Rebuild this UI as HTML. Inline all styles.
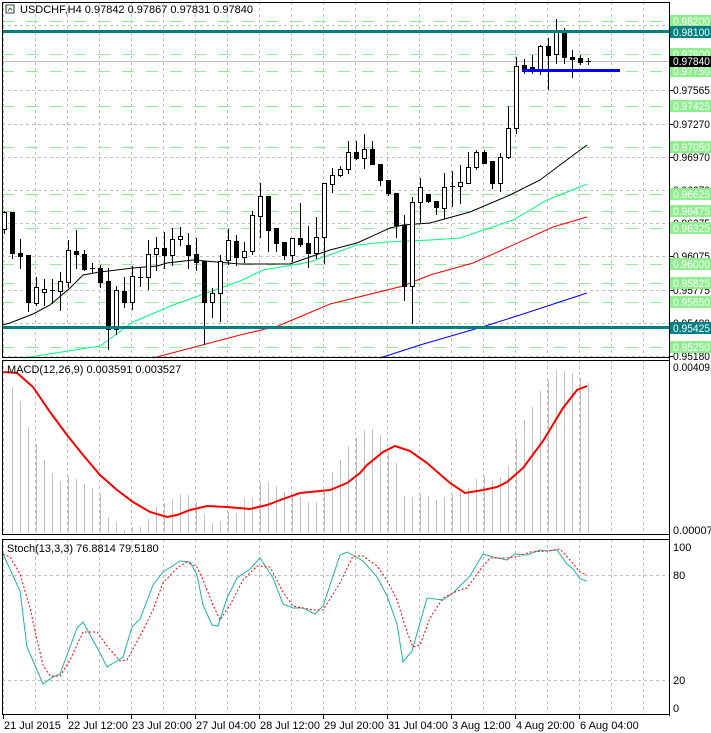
<!DOCTYPE html>
<html><head><meta charset="utf-8">
<style>
html,body{margin:0;padding:0;background:#fff;}
svg{display:block;font-family:"Liberation Sans",sans-serif;font-size:11px;}
</style></head>
<body>
<svg id="c" width="711" height="733" viewBox="0 0 711 733" xmlns="http://www.w3.org/2000/svg"></svg>
<script>
const S=document.getElementById('c');let h='';
function L(x1,y1,x2,y2,c,w,d){h+=`<line x1="${x1}" y1="${y1}" x2="${x2}" y2="${y2}" stroke="${c}" stroke-width="${w||1}"${d?` stroke-dasharray="${d}"`:''} shape-rendering="crispEdges"/>`;}
function R(x,y,w,hh,f,s){h+=`<rect x="${x}" y="${y}" width="${w}" height="${hh}" fill="${f}"${s?` stroke="${s}"`:''} shape-rendering="crispEdges"/>`;}
function T(x,y,t,c,a){h+=`<text x="${x}" y="${y}" fill="${c||'#000'}"${a?` text-anchor="${a}"`:''}>${t}</text>`;}
function TA(x,y,t,c){h+=`<text x="${x}" y="${y}" fill="${c||'#000'}" textLength="37" lengthAdjust="spacingAndGlyphs">${t}</text>`;}
function P(pts,c,w,d){h+=`<polyline points="${pts.map(p=>p.join(',')).join(' ')}" fill="none" stroke="${c}" stroke-width="${w||1}"${d?` stroke-dasharray="${d}"`:''}/>`;}
const AX=669;
const vx=[];for(let x=3;x<AX;x+=32)vx.push(x);
function vgrid(y1,y2){vx.forEach(x=>L(x+.5,y1,x+.5,y2,'#c0c0c0',1,'3,3'));}
vgrid(2,357);
[25,90,124,157,190,223,256,290,323,356].forEach(y=>L(2,y+.5,AX,y+.5,'#c0c0c0',1,'3,3'));
const gl=[[21,'0.98200'],[54,'0.97900'],[71,'0.97750'],[106,'0.97425'],[147,'0.97050'],[194,'0.96625'],[211,'0.96475'],[228,'0.96325'],[264,'0.96000'],[283,'0.95825'],[302,'0.95650'],[347,'0.95250']];
gl.forEach(g=>L(2,g[0]+.5,AX,g[0]+.5,'#90ee90',1,'12,12'));
L(2,61.5,AX,61.5,'#c0c0c0',1);
P([[2,325],[10,323],[33,314],[50,305],[70,288],[83,275],[100,272],[133,268],[157,266],[167,263],[193,260],[240,264],[290,264],[330,250],[357,243],[390,228],[403,225],[430,223],[470,212],[510,195],[540,180],[560,165],[587,145]],'#000');
P([[23,358],[100,346],[133,322],[173,305],[240,281],[263,270],[310,262],[357,245],[387,242],[430,240],[460,238],[513,220],[547,200],[587,184]],'#00ff7f');
P([[153,358],[240,335],[278,326],[330,304],[403,286],[430,275],[473,263],[553,227],[587,217]],'#ff0000');
P([[380,358],[420,345],[482,327],[520,315],[587,293]],'#0000ff');
const C=[[229,212,211,233],[212,253,212,258],[253,256,239,268],[255,302,255,311],[303,287,277,305],[292,289,279,305],[290,290,279,303],[291,281,272,310],[282,250,240,287],[251,254,230,268],[254,269,250,270],[268,268,263,272],[268,282,265,287],[281,329,268,349],[329,290,286,334],[291,302,277,307],[302,276,266,309],[277,277,268,286],[277,254,240,289],[254,248,237,270],[248,255,232,268],[255,239,228,265],[239,236,227,245],[245,255,233,268],[254,262,238,270],[261,302,261,344],[302,293,288,317],[293,261,255,321],[260,240,229,264],[241,257,235,265],
[257,251,242,262],[251,215,211,254],[216,196,183,237],[196,230,196,251],[228,243,228,251],[242,255,242,259],[255,238,238,261],[238,244,203,246],[243,253,226,267],[253,237,217,258],[237,183,183,263],[184,175,168,192],[175,169,166,176],[169,152,141,173],[152,158,141,159],[158,149,134,168],[149,164,141,164],[164,180,164,185],[180,193,180,195],[193,225,193,237],[225,286,215,300],[286,202,197,323],[202,187,178,222],[194,201,194,202],
[201,207,201,214],[208,187,173,218],[186,186,171,206],[186,182,165,203],[183,167,152,183],[167,152,150,169],[152,163,150,163],[161,183,161,188],[183,157,153,191],[157,128,106,158],[128,66,57,133],[65,68,59,73],[67,70,55,73],[69,46,45,74],[46,55,38,89],[54,31,19,63],[31,57,28,63],[57,59,50,77],[58,62,55,64],[61,61,58,64]];
C.forEach((c,i)=>{const x=Math.round(3.5+8*i);const [o,cl,hi,lo]=c;
 L(x+.5,hi,x+.5,lo+1,'#000');
 const t=Math.min(o,cl),b=Math.max(o,cl);
 if(b-t<1){L(x-2,t+.5,x+3,t+.5,'#000');}
 else if(cl<o){R(x-2+.5,t+.5,4,b-t,'#fff','#000');}
 else R(x-2,t,5,b-t+1,'#000');
});
R(2,30,AX-2,3,'#008080');R(2,326,AX-2,3,'#008080');
R(522,69,98,3,'#0000ff');
L(2,2.5,AX,2.5,'#000');L(2,357.5,AX,357.5,'#000');L(2.5,2,2.5,358,'#000');
const M0=360,M1=535;
vgrid(M0,M1);
const mb=[null,387,401,427,444,460,473,481,476,479,484,488,494,517,522,530,527,527,519,507,503,499,494,495,502,514,523,521,512,513,498,498,482,482,486,492,497,497,502,502,492,472,460,446,438,430,429,435,452,463,496,497,494,496,500,497,494,492,488,479,476,480,477,466,439,420,407,391,380,370,371,373,378,383];
mb.forEach((y,i)=>{if(y===null)return;const x=Math.round(3.5+8*i)+.5;L(x,y,x,533,'#c0c0c0');});
P([[3,372],[17,373],[33,387],[50,412],[67,435],[83,455],[100,475],[117,490],[133,502],[150,512],[167,517],[177,515],[190,510],[207,506],[227,507],[250,509],[267,505],[283,499],[300,493],[330,490],[347,483],[360,473],[367,465],[383,452],[395,446],[410,451],[427,463],[450,483],[465,493],[483,490],[497,487],[507,482],[523,468],[543,441],[563,408],[577,390],[587,386]],'#ff0000',2);
T(7,373,'MACD(12,26,9) 0.003591 0.003527','#000');
h+=`<rect x="2.5" y="${M0+.5}" width="${AX-2}" height="${M1-M0-1}" fill="none" stroke="#000"/>`;
const S0=539,S1=715;
vgrid(S0,S1);
L(2,575.5,AX,575.5,'#c0c0c0',1,'3,3');L(2,680.5,AX,680.5,'#c0c0c0',1,'3,3');
P([[3,554],[20,591],[27,647],[37,670],[43,684],[53,677],[60,674],[77,628],[83,622],[100,653],[107,667],[123,657],[132,627],[140,619],[153,585],[163,572],[180,561],[190,562],[197,575],[203,605],[212,625],[218,626],[227,598],[237,578],[250,569],[260,558],[273,578],[283,604],[293,608],[303,608],[315,614],[323,606],[340,555],[347,552],[363,561],[377,577],[387,596],[397,624],[403,662],[412,651],[427,598],[443,600],[453,593],[465,581],[470,576],[483,554],[493,557],[507,560],[515,554],[527,555],[540,550],[547,551],[557,550],[567,564],[573,569],[580,579],[587,581]],'#20b2aa');
P([[3,554],[10,557],[20,574],[30,608],[37,640],[43,665],[50,676],[60,676],[70,660],[83,632],[97,632],[107,646],[120,661],[127,660],[140,636],[153,610],[163,583],[177,568],[187,562],[197,567],[203,580],[213,605],[220,620],[230,605],[243,580],[257,566],[270,567],[283,592],[293,606],[303,608],[313,610],[323,610],[340,583],[353,556],[363,556],[377,566],[387,580],[397,600],[407,632],[413,647],[420,645],[430,618],[443,598],[457,591],[467,588],[480,570],[490,558],[507,558],[520,556],[530,552],[547,551],[560,549],[570,560],[580,572],[587,575]],'#ff0000',1,'2,2');
T(7,552,'Stoch(13,3,3) 76.8814 79.5180','#000');
h+=`<rect x="2.5" y="${S0+.5}" width="${AX-2}" height="${S1-S0-1}" fill="none" stroke="#000"/>`;
L(AX+.5,2,AX+.5,716,'#000');
[[90,'0.97565'],[124,'0.97270'],[157,'0.96970'],[190,'0.96670'],[223,'0.96375'],[256,'0.96075'],[290,'0.95775'],[323,'0.95480'],[356,'0.95180']].forEach(a=>{L(AX,a[0]+.5,AX+4,a[0]+.5,'#000');TA(673,a[0]+4,a[1]);});
gl.forEach(g=>{R(AX+1,g[0]-6,41,12,'#90ee90');TA(673,g[0]+4,g[1],'#fff');});
R(AX+1,26,41,12,'#008080');TA(673,36,'0.98100','#fff');
R(AX+1,322,41,12,'#008080');TA(673,332,'0.95425','#fff');
R(AX+1,56,41,11,'#000');TA(673,65,'0.97840','#fff');
TA(673,371,'0.00409');T(673,534,'0.000072');
T(673,551,'100');T(673,579,'80');T(673,684,'20');T(673,712,'0');
const tl=['21 Jul 2015','22 Jul 12:00','23 Jul 20:00','27 Jul 04:00','28 Jul 12:00','29 Jul 20:00','31 Jul 04:00','3 Aug 12:00','4 Aug 20:00','6 Aug 04:00'];
tl.forEach((t,i)=>{const x=3+64*i;L(x+.5,715,x+.5,719,'#000');T(x+1,729,t);});
T(20,13,'USDCHF,H4  0.97842 0.97867 0.97831 0.97840');
h+='<path d="M6 5 L14 5 L14 13 L6 13 Z" fill="#fff" stroke="#000" stroke-width="0.8"/><path d="M8 11 L10 8 L12 10" fill="none" stroke="#008000"/>';
S.innerHTML=h;
</script>
</body></html>
